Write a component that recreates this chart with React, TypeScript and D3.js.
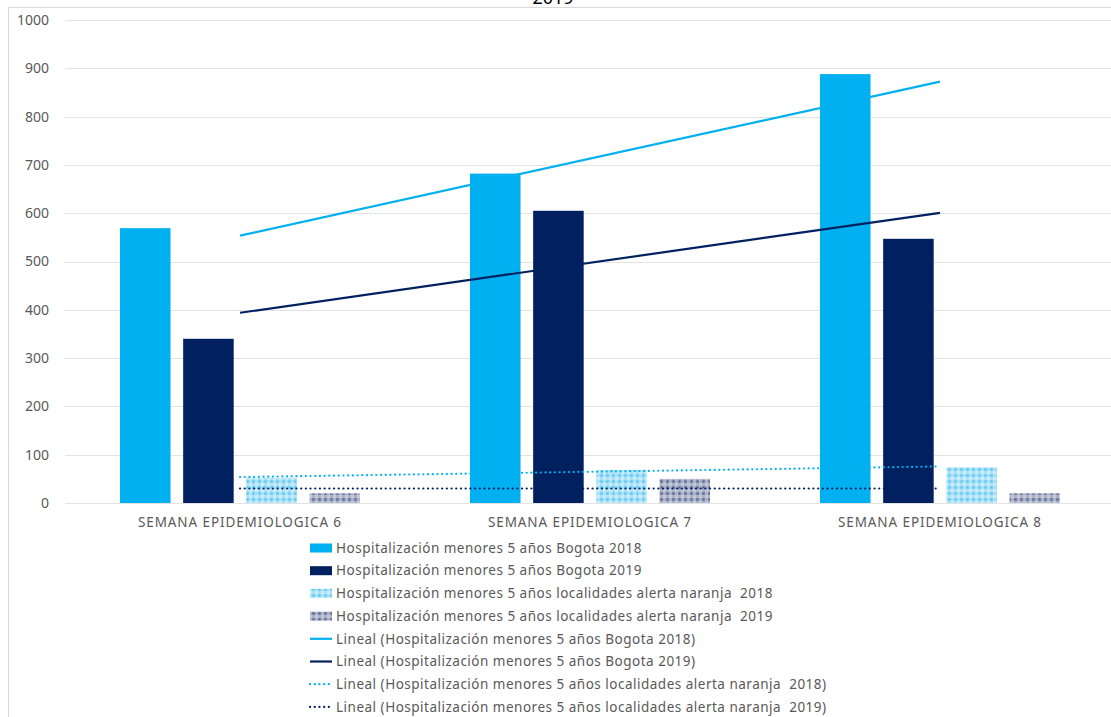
import React from "react";
import * as d3 from "d3";

const categories = ["SEMANA EPIDEMIOLOGICA 6", "SEMANA EPIDEMIOLOGICA 7", "SEMANA EPIDEMIOLOGICA 8"];
const bogota2018 = [569, 682, 888];
const bogota2019 = [340, 605, 547];
const alerta2018 = [52, 68, 74];
const alerta2019 = [20, 50, 20];
const yTicks = [0, 100, 200, 300, 400, 500, 600, 700, 800, 900, 1000];
const seriesNames = [
  "Hospitalización menores 5 años Bogota 2018",
  "Hospitalización menores 5 años Bogota 2019",
  "Hospitalización menores 5 años localidades alerta naranja  2018",
  "Hospitalización menores 5 años localidades alerta naranja  2019",
];
const title = "2019";

const W = 1111, H = 717;
const LIGHT = "#00b0f0", NAVY = "#002060";
const TXT = "#595959";
const FONT = "'Noto Sans', 'Open Sans', sans-serif";

function regression(vals: number[]) {
  const xs = vals.map((_, i) => i + 1);
  const mx = d3.mean(xs)!, my = d3.mean(vals)!;
  let num = 0, den = 0;
  xs.forEach((x, i) => { num += (x - mx) * (vals[i] - my); den += (x - mx) ** 2; });
  const b = num / den, a = my - b * mx;
  return (x: number) => a + b * x;
}

export default function App() {
  const y = d3.scaleLinear().domain([0, 1000]).range([503, 20]);
  const x = d3.scaleBand<string>().domain(categories).range([65, 1115]).paddingInner(0).paddingOuter(0);
  const inner = d3.scaleBand<number>().domain([0, 1, 2, 3]).range([55, 295]).paddingInner(0.2).paddingOuter(0);
  const series = [bogota2018, bogota2019, alerta2018, alerta2019];
  const fills = [LIGHT, NAVY, "url(#patLight)", "url(#patDark)"];
  const trendStyles = [
    { color: LIGHT, dash: undefined as string | undefined },
    { color: NAVY, dash: undefined as string | undefined },
    { color: LIGHT, dash: "0.1 4.6" },
    { color: NAVY, dash: "0.1 4.6" },
  ];
  const cx = (i: number) => x(categories[i])! + x.bandwidth() / 2;
  const line = d3.line<[number, number]>().x(d => d[0]).y(d => d[1]);

  const legendY0 = 548, legendStep = 22.7;
  const legendItems = [
    ...seriesNames.map((n, i) => ({ label: n, kind: "bar" as const, i })),
    ...seriesNames.map((n, i) => ({ label: `Lineal (${n})`, kind: "line" as const, i })),
  ];

  return (
    <svg width={W} height={H} style={{ position: "absolute", left: 0, top: 0, background: "#fff" }}>
      <defs>
        <pattern id="patLight" width="6" height="6" patternUnits="userSpaceOnUse">
          <rect width="6" height="6" fill="#a9e2f8" />
          <rect x="0" y="0" width="3" height="3" fill="#7fd3f4" />
          <rect x="3" y="3" width="3" height="3" fill="#c9ecfa" />
          <rect x="1" y="1" width="1" height="1" fill="#3fc0f0" />
        </pattern>
        <pattern id="patDark" width="6" height="6" patternUnits="userSpaceOnUse">
          <rect width="6" height="6" fill="#aab1c8" />
          <rect x="0" y="0" width="3" height="3" fill="#7d88a8" />
          <rect x="3" y="3" width="3" height="3" fill="#c3c8d8" />
          <rect x="1" y="1" width="1" height="1" fill="#4a5780" />
        </pattern>
      </defs>
      {/* frame */}
      <line x1={8.5} x2={8.5} y1={7} y2={H} stroke="#d9d9d9" />
      <line x1={8} x2={W} y1={7.5} y2={7.5} stroke="#d9d9d9" />
      <text x={553} y={4} textAnchor="middle" fontFamily={FONT} fontSize={18} fill="#000">{title}</text>
      {/* gridlines & y labels */}
      {yTicks.map(t => (
        <g key={t}>
          <line x1={65} x2={W} y1={Math.round(y(t)) + 0.5} y2={Math.round(y(t)) + 0.5} stroke="#e3e3e3" strokeWidth={1.2} />
          <text x={49} y={y(t)} dy="0.35em" textAnchor="end" fontFamily={FONT} fontSize={14} fill={TXT}>{t}</text>
        </g>
      ))}
      {/* bars */}
      {categories.map((c, ci) => (
        <g key={c}>
          {series.map((s, si) => (
            <rect key={si} x={x(c)! + inner(si)!} width={inner.bandwidth()} y={y(s[ci])} height={y(0) - y(s[ci])} fill={fills[si]} />
          ))}
          <text x={cx(ci)} y={527} textAnchor="middle" fontFamily={FONT} fontSize={13.5} letterSpacing={0.9} fill={TXT}>{c}</text>
        </g>
      ))}
      {/* trendlines */}
      {series.map((s, si) => {
        const f = regression(s);
        const pts: [number, number][] = [[cx(0), y(f(1))], [cx(2), y(f(3))]];
        return (
          <path key={si} d={line(pts)!} fill="none" stroke={trendStyles[si].color} strokeWidth={2.2}
            strokeDasharray={trendStyles[si].dash} strokeLinecap={trendStyles[si].dash ? "round" : "butt"} />
        );
      })}
      {/* legend */}
      {legendItems.map((it, k) => {
        const yy = legendY0 + k * legendStep;
        return (
          <g key={k}>
            {it.kind === "bar" ? (
              <rect x={310} y={yy - 4.5} width={22} height={9} fill={fills[it.i]} />
            ) : (
              <line x1={310} x2={332} y1={yy} y2={yy} stroke={trendStyles[it.i].color} strokeWidth={2.2}
                strokeDasharray={trendStyles[it.i].dash} strokeLinecap={trendStyles[it.i].dash ? "round" : "butt"} />
            )}
            <text x={336} y={yy} dy="0.35em" fontFamily={FONT} fontSize={13.5} letterSpacing={0.5}
              style={{ whiteSpace: "pre" }} fill={TXT}>{it.label}</text>
          </g>
        );
      })}
    </svg>
  );
}
